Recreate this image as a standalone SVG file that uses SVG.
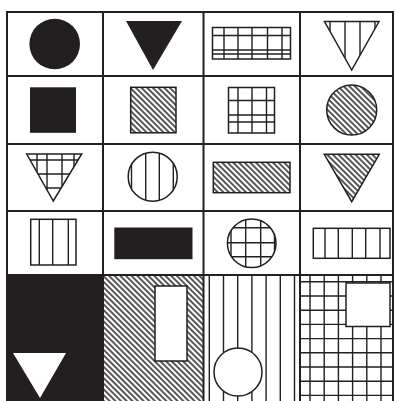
<svg xmlns="http://www.w3.org/2000/svg" width="395" height="401" viewBox="0 0 395 401">
<style>
.frame{fill:none;stroke:#231f20;stroke-width:2}
.ink{fill:#231f20}
.out{fill:none;stroke:#231f20;stroke-width:1.5}
.ln{stroke:#231f20;stroke-width:1.4;fill:none}
.hf{fill:url(#hatch);stroke:#231f20;stroke-width:1.5}
.wf{fill:#fff;stroke:#231f20;stroke-width:1.5}
</style>
<defs>
<pattern id="hatch" patternUnits="userSpaceOnUse" width="4" height="4" patternTransform="rotate(-45)">
<rect width="4" height="4" fill="#fff"/>
<line x1="2" y1="0" x2="2" y2="4" stroke="#231f20" stroke-width="1.5"/>
</pattern>
<clipPath id="c14"><polygon points="324.5,21.5 379,21.5 351.7,70"/></clipPath>
<clipPath id="c31"><polygon points="26.7,154 81.7,154 53.3,201"/></clipPath>
<clipPath id="c32"><circle cx="152.7" cy="176.7" r="24.5"/></clipPath>
<clipPath id="c43"><circle cx="251.7" cy="243.3" r="24.3"/></clipPath>
<clipPath id="c54"><rect x="300" y="275" width="93" height="126"/></clipPath>
</defs>

<g id="cell-5-1">
<rect class="ink" x="7" y="275" width="96" height="126"/>
<polygon fill="#fff" points="13,353 66,353 40,398"/>
</g>
<g id="cell-5-2">
<rect fill="url(#hatch)" x="103" y="275" width="100.5" height="126"/>
<rect class="wf" x="155" y="286" width="32" height="75"/>
</g>
<g id="cell-5-3">
<path class="ln" d="M209.3,275V401M223.5,275V401M237.7,275V401M251.9,275V401M266.1,275V401M280.3,275V401M294.5,275V401"/>
<circle class="wf" cx="238" cy="372" r="24"/>
</g>
<g id="cell-5-4">
<g clip-path="url(#c54)">
<path class="ln" d="M310,275V401M324.2,275V401M338.4,275V401M352.6,275V401M366.8,275V401M381,275V401M300,281.8H393M300,296H393M300,310.2H393M300,324.4H393M300,338.6H393M300,352.8H393M300,367H393M300,381.2H393M300,395.4H393"/>
</g>
<rect class="wf" x="346" y="283" width="44" height="43.5"/>
</g>

<g id="cell-1-1"><circle class="ink" cx="54.7" cy="44" r="25.3"/></g>
<g id="cell-1-2"><polygon class="ink" points="126,21 182,21 153,70"/></g>
<g id="cell-1-3">
<rect class="out" x="212.5" y="27.5" width="78" height="31.5"/>
<path class="ln" d="M224,27.5V59M238,27.5V59M252,27.5V59M267.5,27.5V59M282,27.5V59M212.5,35.5H290.5M212.5,50H290.5M212.5,54H290.5"/>
</g>
<g id="cell-1-4">
<g clip-path="url(#c14)"><path class="ln" d="M330,21V71M345,21V71M360,21V71M375,21V71"/></g>
<polygon class="out" points="324.5,21.5 379,21.5 351.7,70"/>
</g>

<g id="cell-2-1"><rect class="ink" x="30" y="87.3" width="46" height="45.5"/></g>
<g id="cell-2-2"><rect class="hf" x="130.7" y="87.3" width="45.3" height="45.5"/></g>
<g id="cell-2-3">
<rect class="out" x="228.5" y="87.5" width="46" height="45.5"/>
<path class="ln" d="M238,87.5V133M252,87.5V133M266.5,87.5V133M228.5,100.5H274.5M228.5,115H274.5M228.5,122H274.5"/>
</g>
<g id="cell-2-4"><circle class="hf" cx="351.7" cy="110" r="25"/></g>

<g id="cell-3-1">
<g clip-path="url(#c31)"><path class="ln" d="M37,150V205M47,150V205M62,150V205M74,150V205M20,160H90M20,174H90M20,188H90"/></g>
<polygon class="out" points="26.7,154 81.7,154 53.3,201"/>
</g>
<g id="cell-3-2">
<g clip-path="url(#c32)"><path class="ln" d="M131.5,150V205M145.7,150V205M159.3,150V205M173.3,150V205"/></g>
<circle class="out" cx="152.7" cy="176.7" r="24.5"/>
</g>
<g id="cell-3-3"><rect class="hf" x="213.3" y="162.3" width="76.7" height="30.4"/></g>
<g id="cell-3-4"><polygon class="hf" points="324.3,154.3 379.3,154.3 351.7,201.7"/></g>

<g id="cell-4-1">
<rect class="out" x="30.7" y="219.3" width="45.3" height="45.7"/>
<path class="ln" d="M39.3,219.3V265M52.7,219.3V265M68.3,219.3V265"/>
</g>
<g id="cell-4-2"><rect class="ink" x="114.3" y="227.5" width="78.2" height="31.7"/></g>
<g id="cell-4-3">
<g clip-path="url(#c43)"><path class="ln" d="M231,215V270M245.7,215V270M260.7,215V270M274.5,215V270M225,227.7H280M225,242.7H280M225,256.7H280"/></g>
<circle class="out" cx="251.7" cy="243.3" r="24.3"/>
</g>
<g id="cell-4-4">
<rect class="out" x="313.3" y="228.3" width="76.7" height="30"/>
<path class="ln" d="M325,228.3V258.3M338.3,228.3V258.3M352.3,228.3V258.3M365.7,228.3V258.3M380,228.3V258.3"/>
</g>

<g id="connectors">
<rect class="frame" x="7" y="12" width="386" height="395"/>
<path class="frame" d="M103,12V401M203.5,12V401M300,12V401M7,76H393M7,144H393M7,211H393M7,275H393"/>
</g>
</svg>
